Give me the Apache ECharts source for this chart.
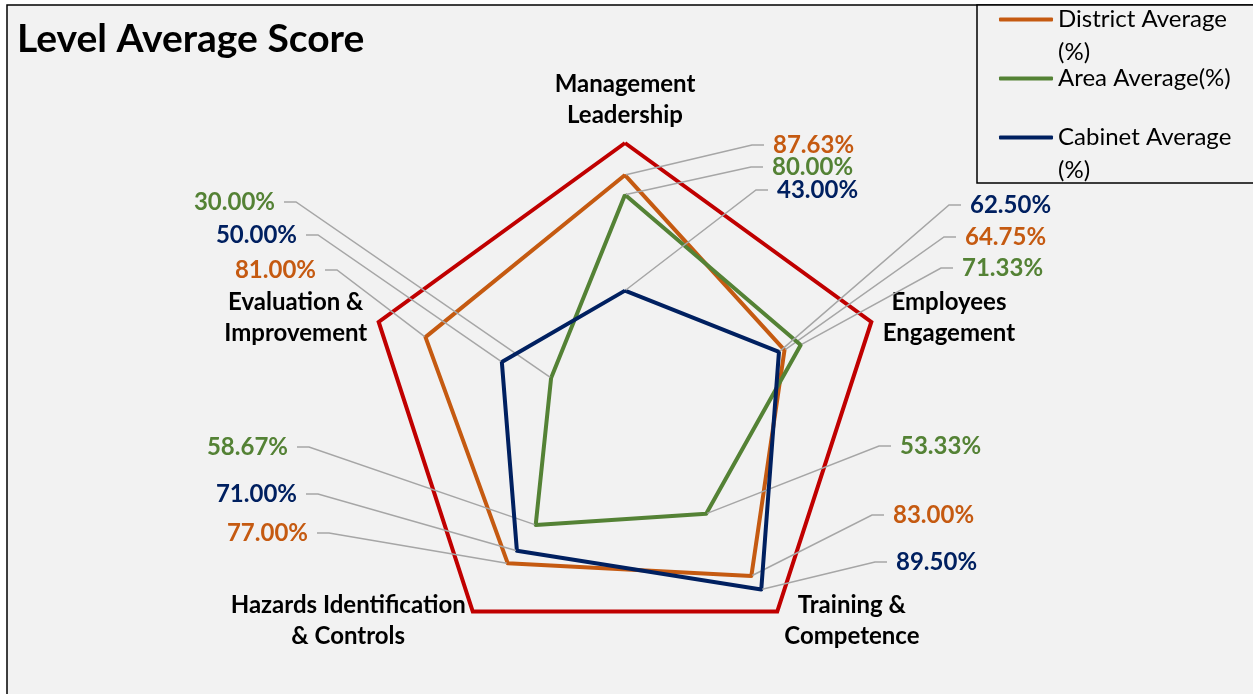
<!DOCTYPE html>
<html>
<head>
<meta charset="utf-8">
<script src="https://cdn.jsdelivr.net/npm/echarts@6.0.0/dist/echarts.min.js"></script>
<style>
  html, body { margin: 0; padding: 0; background: #fff; }
  #chart { width: 1253px; height: 694px; }
</style>
</head>
<body>
<div id="chart"></div>
<script>
// radar goes counter-clockwise from the top, so the order is Mgmt, Eval, Hazards, Training, Employees
const indicatorNames = ['Management\nLeadership', 'Evaluation &\nImprovement', 'Hazards Identification\n& Controls', 'Training &\nCompetence', 'Employees\nEngagement'];
const seriesNames = ['District Average (%)', 'Area Average(%)', 'Cabinet Average (%)'];
const legendLabels = ['\nDistrict Average\n(%)', 'Area Average(%)', '\nCabinet Average\n(%)'];
const districtAvg = [87.63, 81.00, 77.00, 83.00, 64.75];
const areaAvg = [80.00, 30.00, 58.67, 53.33, 71.33];
const cabinetAvg = [43.00, 50.00, 71.00, 89.50, 62.50];

const colors = ['#C55A11', '#548235', '#002060'];
const CENTER = [625, 402];
const PAD = 9;
const FONT = 'Lato, "Open Sans", sans-serif';

// where each value label sits (text edge x, middle y), per series, per indicator
const labelSpots = [
  [[773, 145], [316, 270], [308, 533], [893, 515], [965, 237]],
  [[772, 167], [275, 202], [288, 447], [900, 446], [962, 268]],
  [[777, 190], [297, 235], [297, 494], [896, 562], [970, 205]]
];

const chart = echarts.init(document.getElementById('chart'));

const values = [districtAvg, areaAvg, cabinetAvg];
const series = values.map((vals, i) => ({
  type: 'radar',
  name: seriesNames[i],
  symbol: 'circle',
  symbolSize: 2,
  z: 2 + i,
  lineStyle: { width: 4, color: colors[i] },
  itemStyle: { color: colors[i] },
  emphasis: { disabled: true },
  label: {
    show: true,
    formatter: p => Number(p.value).toFixed(2) + '%',
    color: colors[i],
    fontSize: 24,
    fontWeight: 'bold',
    fontFamily: FONT,
    padding: [0, PAD],
    backgroundColor: 'rgba(0,0,0,0)'
  },
  labelLine: { show: true, length2: 12, lineStyle: { color: '#A6A6A6', width: 1.5 } },
  labelLayout: p => {
    const px = p.rect.x + p.rect.width / 2;
    const py = p.rect.y + p.rect.height / 2;
    const ang = Math.atan2(CENTER[1] - py, px - CENTER[0]) * 180 / Math.PI;
    const idx = Math.round(((ang - 90 + 720) % 360) / 72) % 5;
    const spot = labelSpots[p.seriesIndex][idx];
    const onRight = spot[0] > CENTER[0];
    return {
      x: onRight ? spot[0] - PAD : spot[0] + PAD,
      y: spot[1],
      align: onRight ? 'left' : 'right',
      verticalAlign: 'middle'
    };
  },
  data: [{ value: vals, name: seriesNames[i] }]
}));

chart.setOption({
  backgroundColor: '#fff',
  animation: false,
  graphic: [
    { type: 'rect', shape: { x: 7, y: 5, width: 1400, height: 800 }, style: { fill: '#F2F2F2', stroke: '#000', lineWidth: 1.5 } },
    { type: 'rect', shape: { x: 977, y: 5, width: 400, height: 178 }, style: { fill: '#F2F2F2', stroke: '#000', lineWidth: 1.5 } }
  ],
  title: {
    text: 'Level Average Score',
    left: 17,
    top: 20,
    padding: 0,
    textStyle: { fontSize: 39, fontWeight: 'bold', fontFamily: FONT, color: '#000' }
  },
  legend: {
    orient: 'vertical',
    left: 999,
    top: -30,
    padding: 0,
    itemGap: -7,
    itemWidth: 54,
    itemHeight: 4,
    icon: 'roundRect',
    selectedMode: false,
    data: seriesNames,
    formatter: name => legendLabels[seriesNames.indexOf(name)],
    textStyle: { fontSize: 24, fontFamily: FONT, color: '#000', lineHeight: 33 }
  },
  radar: {
    center: CENTER,
    radius: 259,
    startAngle: 90,
    splitNumber: 1,
    shape: 'polygon',
    axisNameGap: 12,
    axisName: {
      formatter: name => name.split('\n').map(s => '{n|' + s + '}').join('\n'),
      rich: {
        n: { align: 'center', fontSize: 24, fontWeight: 'bold', fontFamily: FONT, color: '#000', lineHeight: 31 }
      }
    },
    axisLine: { show: false },
    splitArea: { show: false },
    splitLine: { lineStyle: { color: '#C00000', width: 4 } },
    indicator: indicatorNames.map(n => ({ name: n, min: 0, max: 100 }))
  },
  series
});
</script>
</body>
</html>
